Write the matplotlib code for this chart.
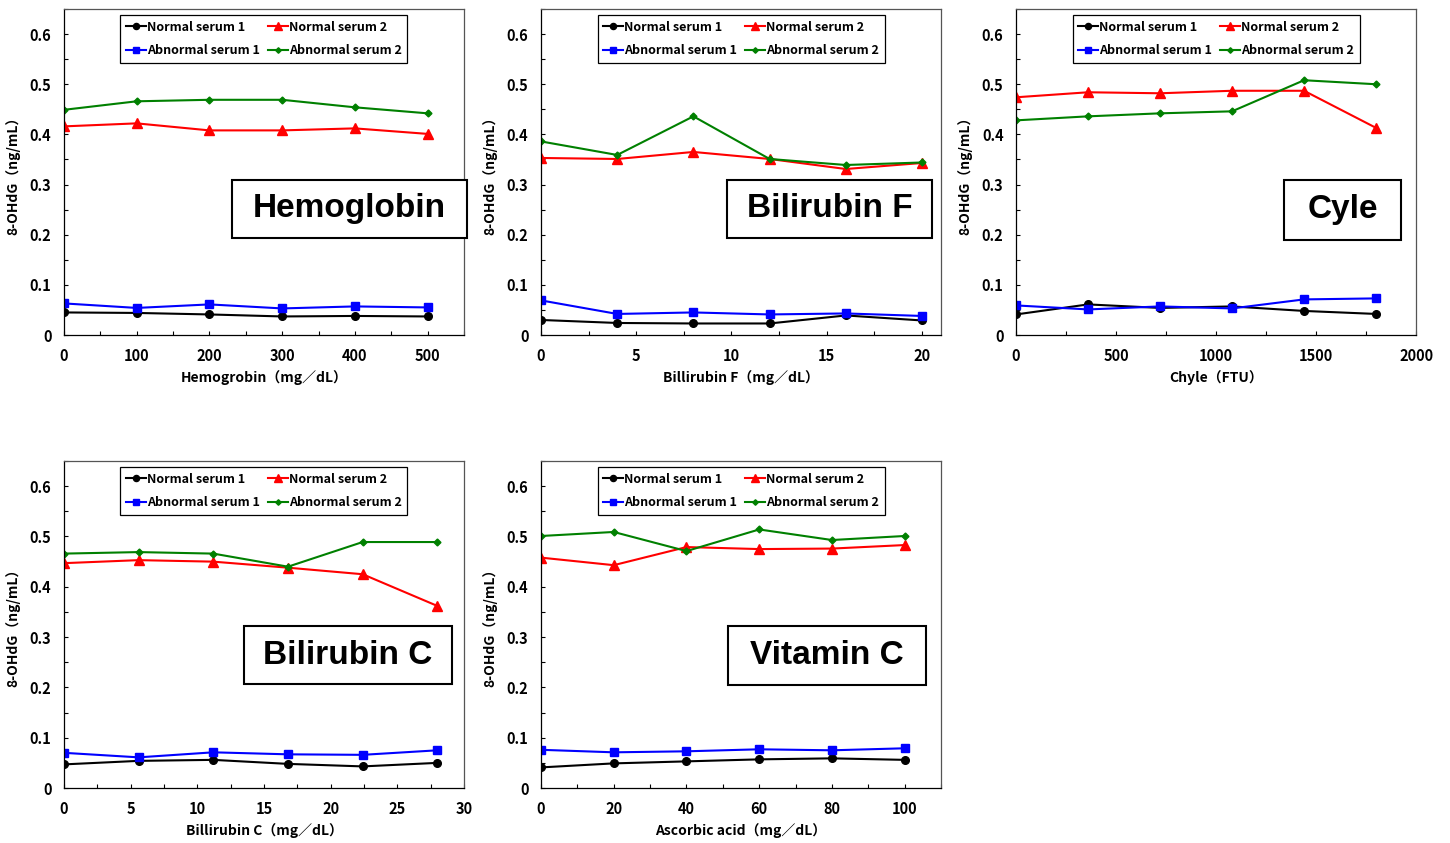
import matplotlib
matplotlib.use("Agg")
import matplotlib.pyplot as plt
from matplotlib.patches import Rectangle
from matplotlib.ticker import MultipleLocator, FuncFormatter

plt.rcParams['font.family'] = ['Noto Sans CJK JP', 'DejaVu Sans']
plt.rcParams['font.weight'] = 'bold'

# data
hemo_x = [0, 100, 200, 300, 400, 500]
hemo_n1 = [0.045, 0.044, 0.041, 0.037, 0.038, 0.037]
hemo_n2 = [0.416, 0.422, 0.408, 0.408, 0.412, 0.401]
hemo_a1 = [0.063, 0.054, 0.061, 0.053, 0.057, 0.055]
hemo_a2 = [0.449, 0.466, 0.469, 0.469, 0.454, 0.442]

bilf_x = [0, 4, 8, 12, 16, 20]
bilf_n1 = [0.030, 0.024, 0.023, 0.023, 0.039, 0.029]
bilf_n2 = [0.353, 0.351, 0.365, 0.351, 0.331, 0.343]
bilf_a1 = [0.069, 0.042, 0.045, 0.041, 0.043, 0.038]
bilf_a2 = [0.386, 0.359, 0.436, 0.351, 0.339, 0.344]

chyle_x = [0, 360, 720, 1080, 1440, 1800]
chyle_n1 = [0.041, 0.061, 0.054, 0.057, 0.048, 0.042]
chyle_n2 = [0.474, 0.484, 0.482, 0.487, 0.487, 0.413]
chyle_a1 = [0.059, 0.051, 0.057, 0.053, 0.071, 0.073]
chyle_a2 = [0.428, 0.436, 0.442, 0.446, 0.508, 0.500]

bilc_x = [0, 5.6, 11.2, 16.8, 22.4, 28]
bilc_n1 = [0.047, 0.054, 0.056, 0.048, 0.043, 0.050]
bilc_n2 = [0.447, 0.453, 0.450, 0.438, 0.425, 0.362]
bilc_a1 = [0.070, 0.061, 0.071, 0.067, 0.066, 0.075]
bilc_a2 = [0.466, 0.469, 0.466, 0.440, 0.489, 0.489]

vitc_x = [0, 20, 40, 60, 80, 100]
vitc_n1 = [0.041, 0.049, 0.053, 0.057, 0.059, 0.056]
vitc_n2 = [0.458, 0.443, 0.479, 0.475, 0.476, 0.483]
vitc_a1 = [0.076, 0.071, 0.073, 0.077, 0.075, 0.079]
vitc_a2 = [0.501, 0.509, 0.471, 0.514, 0.493, 0.501]

series_names = ['Normal serum 1', 'Normal serum 2', 'Abnormal serum 1', 'Abnormal serum 2']
ylabel = '8-OHdG（ng/mL）'

panels = [
    # x, series, xlabel, title, xmax, major, minor, axes rect, box rect (axes frac)
    (hemo_x, [hemo_n1, hemo_n2, hemo_a1, hemo_a2], 'Hemogrobin（mg／dL）', 'Hemoglobin',
     550, 100, 50, [0.0441, 0.6026, 0.2759, 0.3867], (0.42, 0.298, 0.5875, 0.178)),
    (bilf_x, [bilf_n1, bilf_n2, bilf_a1, bilf_a2], 'Billirubin F（mg／dL）', 'Bilirubin F',
     21, 5, 2.5, [0.3731, 0.6026, 0.2759, 0.3867], (0.465, 0.298, 0.5125, 0.178)),
    (chyle_x, [chyle_n1, chyle_n2, chyle_a1, chyle_a2], 'Chyle（FTU）', 'Cyle',
     2000, 500, 250, [0.7007, 0.6026, 0.2759, 0.3867], (0.67, 0.292, 0.2925, 0.184)),
    (bilc_x, [bilc_n1, bilc_n2, bilc_a1, bilc_a2], 'Billirubin C（mg／dL）', 'Bilirubin C',
     30, 5, 2.5, [0.0441, 0.0652, 0.2759, 0.3879], (0.45, 0.318, 0.52, 0.177)),
    (vitc_x, [vitc_n1, vitc_n2, vitc_a1, vitc_a2], 'Ascorbic acid（mg／dL）', 'Vitamin C',
     110, 20, 10, [0.3731, 0.0652, 0.2759, 0.3879], (0.4675, 0.315, 0.495, 0.18)),
]

styles = [
    dict(color='black', marker='o', markersize=5.5),
    dict(color='red', marker='^', markersize=6.5),
    dict(color='blue', marker='s', markersize=5.5),
    dict(color='green', marker='D', markersize=3.5),
]

fig = plt.figure(figsize=(14.5, 8.43), dpi=100)

def yfmt(v, pos):
    if abs(v) < 1e-9:
        return '0'
    return '%.1f' % v

for x, ys, xlabel, title, xmax, major, minor, rect, box in panels:
    ax = fig.add_axes(rect)
    lines = []
    for y, name, st in zip(ys, series_names, styles):
        l, = ax.plot(x, y, linewidth=1.5, label=name, **st)
        lines.append(l)
    ax.set_xlim(0, xmax)
    ax.set_ylim(0, 0.65)
    ax.xaxis.set_major_locator(MultipleLocator(major))
    ax.xaxis.set_minor_locator(MultipleLocator(minor))
    ax.yaxis.set_major_locator(MultipleLocator(0.1))
    ax.yaxis.set_minor_locator(MultipleLocator(0.05))
    ax.yaxis.set_major_formatter(FuncFormatter(yfmt))
    ax.tick_params(which='both', direction='in', length=3, width=0.8, labelsize=10.5, pad=9)
    for lab in ax.get_xticklabels() + ax.get_yticklabels():
        lab.set_fontweight('bold')
    for s in ax.spines.values():
        s.set_linewidth(0.9)
    for s in ['top', 'right']:
        ax.spines[s].set_color('#555555')
    ax.set_xlabel(xlabel, fontsize=10, fontweight='bold', labelpad=5)
    ax.set_ylabel(ylabel, fontsize=10, fontweight='bold', labelpad=7)

    order = [lines[0], lines[2], lines[1], lines[3]]
    leg = ax.legend(order, [l.get_label() for l in order], ncol=2, loc='upper center',
                    bbox_to_anchor=(0.5, 0.985), fancybox=False, framealpha=1,
                    edgecolor='black', handlelength=1.6, handletextpad=0.1,
                    columnspacing=0.6, borderpad=0.45, labelspacing=0.85, markerscale=0.8,
                    borderaxespad=0.1, prop={'weight': 'bold', 'size': 9})
    leg.get_frame().set_linewidth(0.9)

    bx, by, bw, bh = box
    ax.add_patch(Rectangle((bx, by), bw, bh, transform=ax.transAxes, facecolor='white',
                           edgecolor='black', linewidth=1.5, clip_on=False, zorder=5))
    ax.text(bx + bw / 2, by + bh / 2, title, transform=ax.transAxes, ha='center', va='center',
            fontsize=24, fontweight='bold', family='Liberation Sans', zorder=6)

fig.savefig('out.png', dpi=100)
